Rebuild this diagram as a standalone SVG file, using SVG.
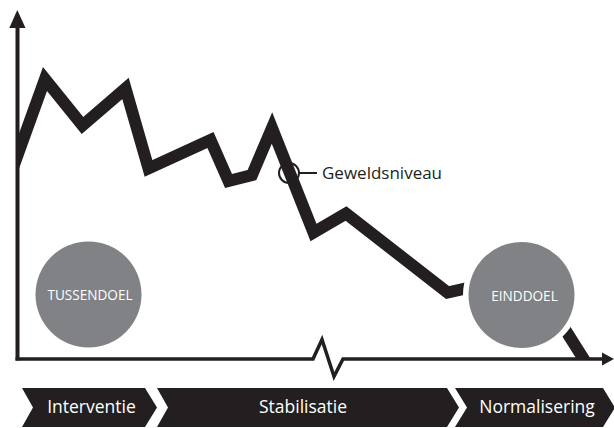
<svg xmlns="http://www.w3.org/2000/svg" width="614" height="428" viewBox="0 0 614 428">
<style>
.ink{fill:#231f20}
.ax{fill:none;stroke:#231f20;stroke-width:3.5;stroke-linejoin:miter}
.level{fill:none;stroke:#231f20;stroke-width:12;stroke-linejoin:miter;stroke-miterlimit:10}
.goal{fill:#808285}
.halo{fill:#ffffff}
.gtxt{font-family:"Open Sans","Liberation Sans",sans-serif;font-size:13.6px;fill:#ffffff;text-anchor:middle}
.ptxt{font-family:"Open Sans","Liberation Sans",sans-serif;font-size:17.5px;fill:#ffffff;text-anchor:middle}
.lbl{font-family:"Open Sans","Liberation Sans",sans-serif;font-size:17px;fill:#231f20}
</style>
<defs>
<clipPath id="plot"><rect x="17" y="0" width="597" height="359.5"/></clipPath>
</defs>
<g id="connectors">
<g id="y-axis">
<line class="ax" x1="17.5" y1="26" x2="17.5" y2="360.5" style="stroke-width:4"/>
<polygon class="ink" points="17.3,10 25.5,28 9.3,28"/>
</g>
<g id="x-axis">
<path class="ax" d="M15.5,359 H313 L322,339.5 L334,376.5 L343,359 H604"/>
<polygon class="ink" points="602,352.5 614,359 602,365.5"/>
</g>
<g id="geweldsniveau-line" clip-path="url(#plot)">
<path class="level" d="M10,176 L45,79 L82.5,125.5 L125.5,88.5 L148.5,168.5 L210.5,140 L228.5,181 L252,175 L272,128 L313.5,232.5 L346,213.5 L447.5,292.5 L530,274 L590,369"/>
</g>
</g>
<g id="tussendoel">
<circle class="goal" cx="88.5" cy="294.5" r="53"/>
<text class="gtxt" x="90" y="300">TUSSENDOEL</text>
</g>
<g id="einddoel">
<circle class="halo" cx="521.5" cy="295" r="58.5"/>
<circle class="goal" cx="521.5" cy="295" r="53"/>
<text class="gtxt" x="524.5" y="300.5">EINDDOEL</text>
</g>
<g id="geweldsniveau-label">
<circle cx="289" cy="173" r="10" fill="none" stroke="#231f20" stroke-width="2"/>
<line x1="299" y1="173" x2="317" y2="173" stroke="#231f20" stroke-width="2"/>
<text class="lbl" x="322" y="179">Geweldsniveau</text>
</g>
<g id="interventie">
<path class="ink" d="M22,388 H145 L157,407.5 L145,427 H22 L33,407.5 Z"/>
<text class="ptxt" x="91.5" y="412.5">Interventie</text>
</g>
<g id="stabilisatie">
<path class="ink" d="M157,388 H447 L459,407.5 L447,427 H157 L168,407.5 Z"/>
<text class="ptxt" x="303" y="412.5">Stabilisatie</text>
</g>
<g id="normalisering">
<path class="ink" d="M455,388 H603 L615,407.5 L603,427 H455 L467,407.5 Z"/>
<text class="ptxt" x="537" y="412.5">Normalisering</text>
</g>
</svg>
